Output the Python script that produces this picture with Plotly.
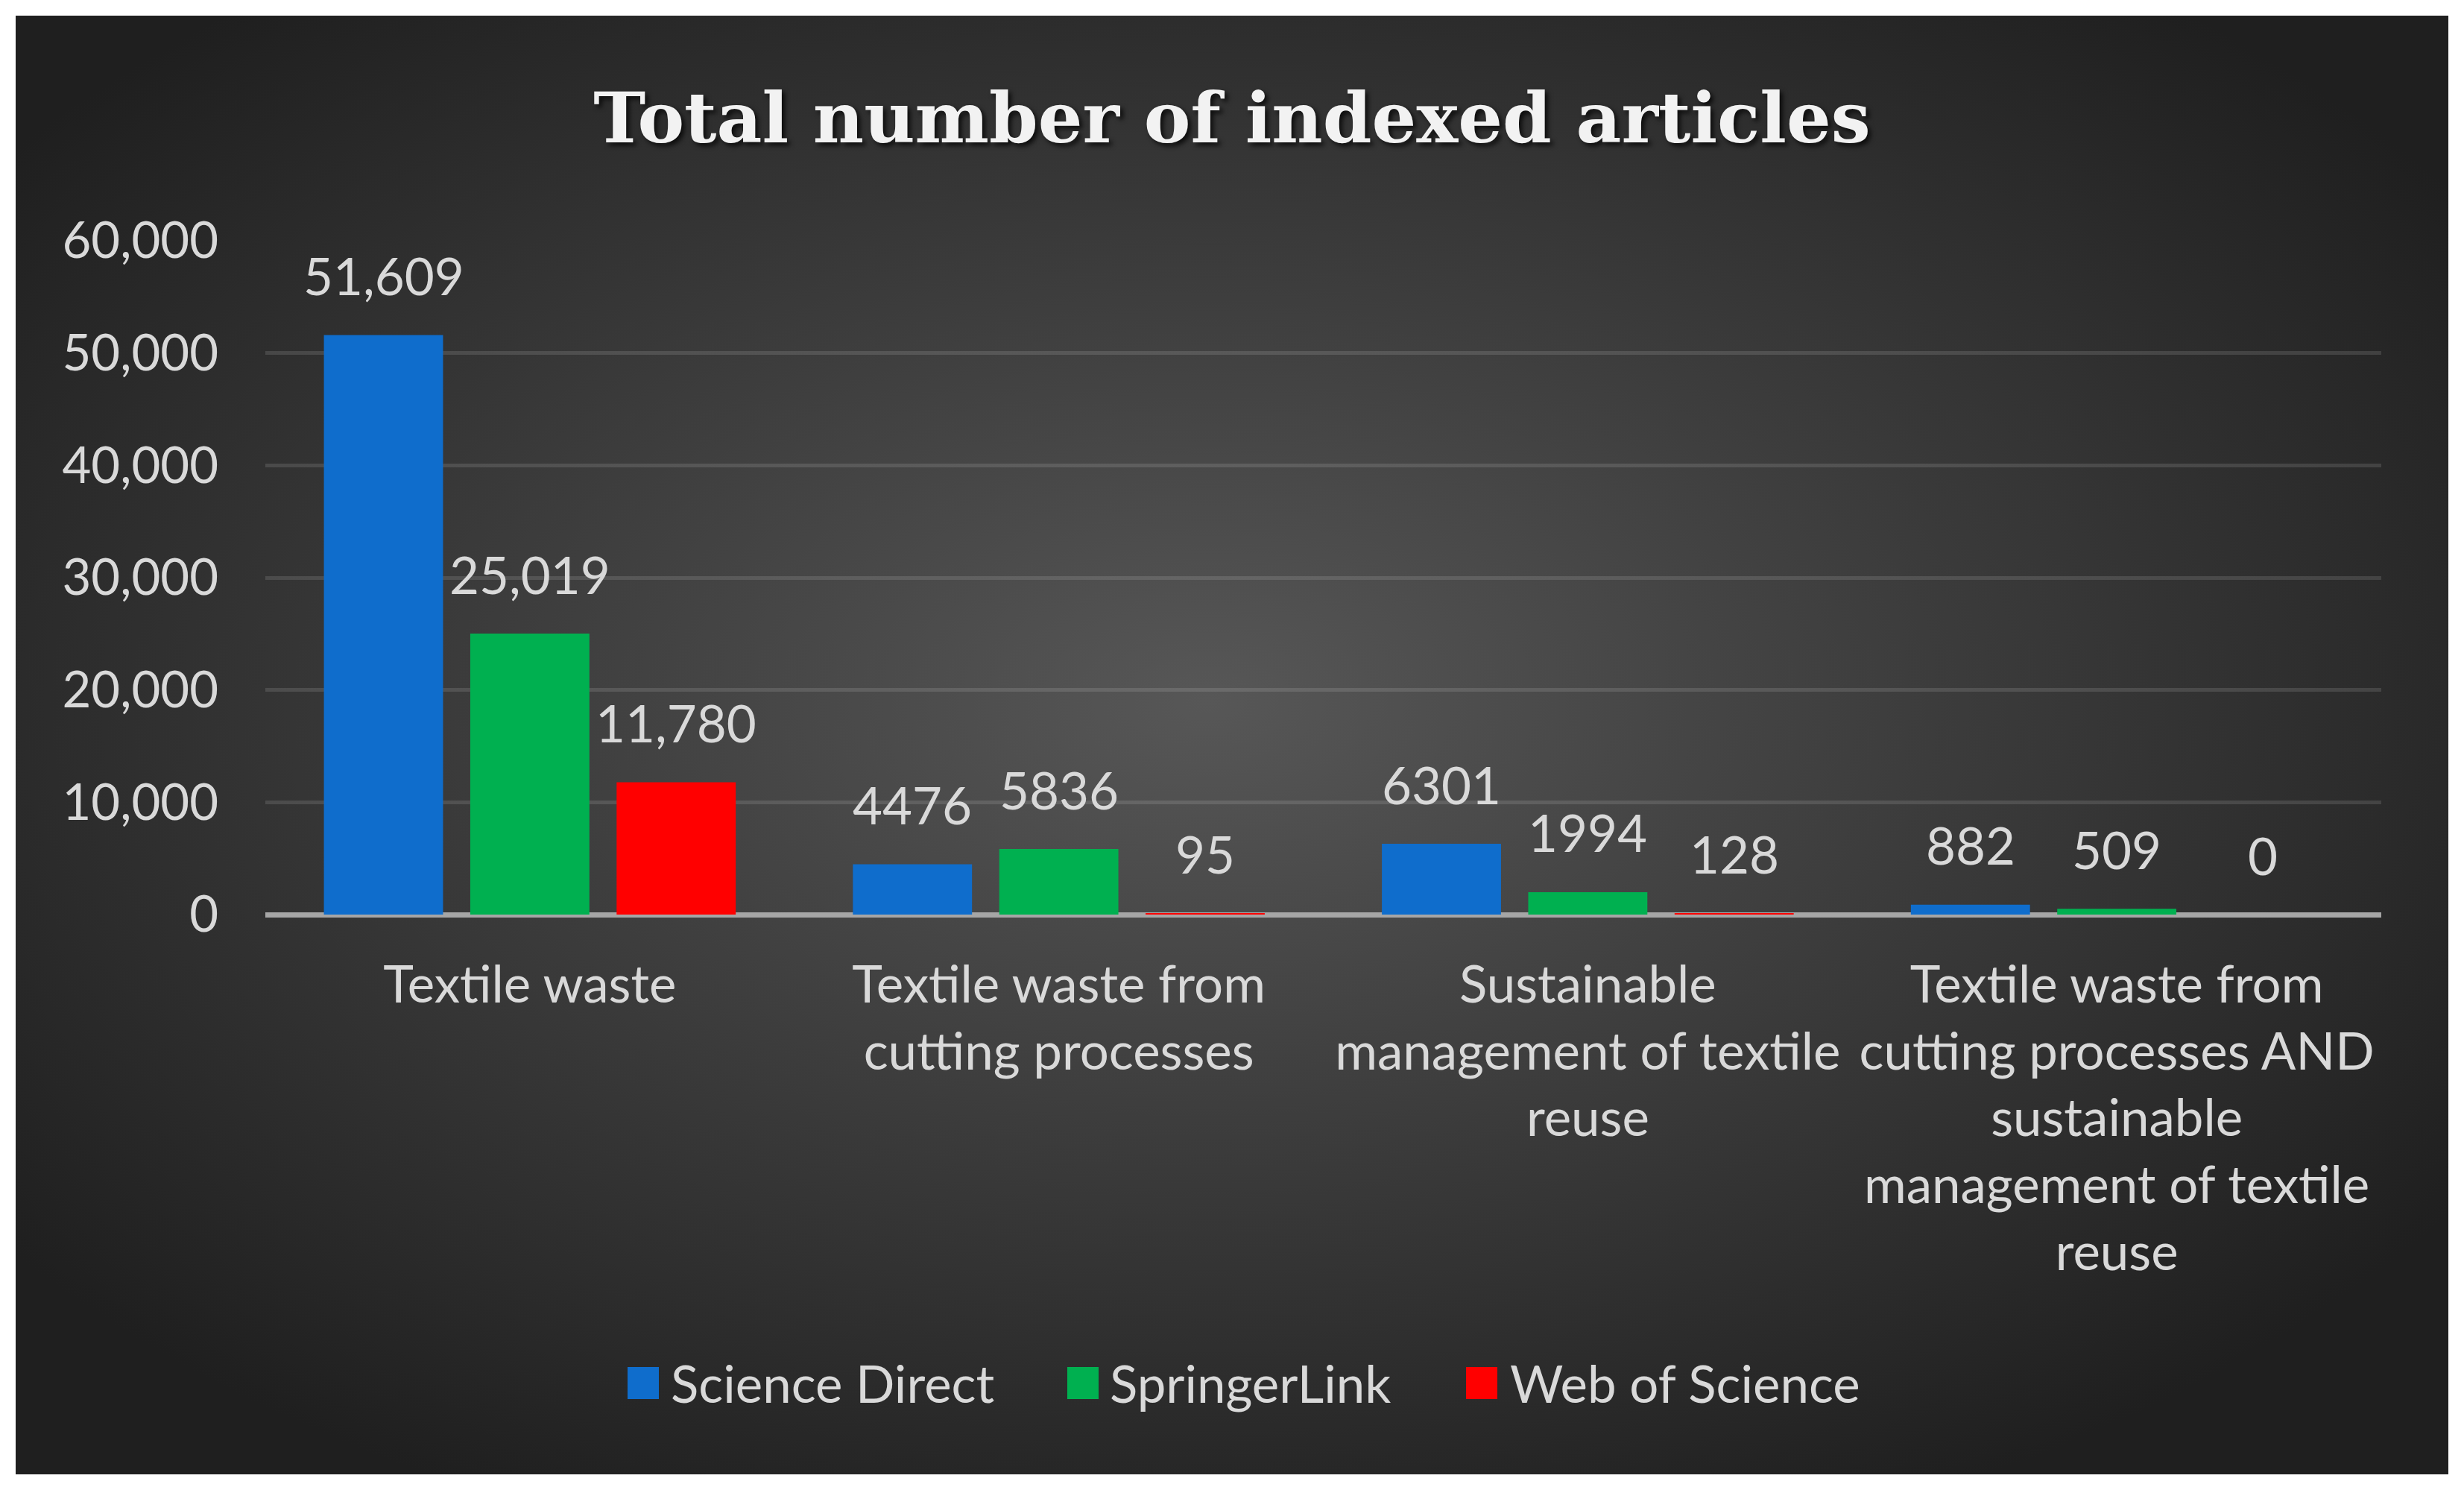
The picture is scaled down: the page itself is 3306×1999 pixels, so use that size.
import base64
import plotly.graph_objects as go

# data
categories = [
    "Textile waste",
    "Textile waste from cutting processes",
    "Sustainable management of textile reuse",
    "Textile waste from cutting processes AND sustainable management of textile reuse",
]
tick_labels = [
    "Textile waste",
    "Textile waste from<br>cutting processes",
    "Sustainable<br>management of textile<br>reuse",
    "Textile waste from<br>cutting processes AND<br>sustainable<br>management of textile<br>reuse",
]
science_direct = [51609, 4476, 6301, 882]
springer_link = [25019, 5836, 1994, 509]
web_of_science = [11780, 95, 128, 0]
series_names = ["Science Direct", "SpringerLink", "Web of Science"]
y_ticks = [0, 10000, 20000, 30000, 40000, 50000, 60000]

BLUE = "#0f6dcc"
GREEN = "#00b050"
RED = "#ff0000"
TEXT = "#d9d9d9"
FONT = "Lato"
FSIZE = 69

W, H = 3306, 1999
OFF = 8  # the page body adds an 8px margin, so pull everything back by that
L, R, T, B = 356 - OFF, 111 + OFF, 323 - OFF, 772 + OFF
PW, PH = W - L - R, H - T - B
BARGAP, GROUPGAP = 0.17, 0.186


def px_x(px):
    return (px - OFF - L) / PW


def px_y(py):
    return 1 - (py - OFF - T) / PH


fig = go.Figure()
series = [science_direct, springer_link, web_of_science]
colors = [BLUE, GREEN, RED]
for name, vals, col in zip(series_names, series, colors):
    fig.add_trace(go.Bar(
        x=categories,
        y=vals,
        name=name,
        marker=dict(color=col, line=dict(width=0)),
        showlegend=False,
    ))

# data labels sit well above the bar tops, as in Excel
slot = PW / len(categories) * (1 - BARGAP) / len(series)
annotations = []
for i, vals in enumerate(series):
    for cat, v in zip(categories, vals):
        label = f"{v:,}" if v >= 10000 else str(v)
        annotations.append(dict(
            x=cat, y=v, xref="x", yref="y", text=label, showarrow=False,
            xshift=(i - 1) * slot, yshift=80, yanchor="middle",
            font=dict(family=FONT, size=FSIZE, color=TEXT),
        ))

# hand-built legend so the colour squares can be large
legend_sq = [842, 1432, 1967]
legend_txt = [898, 1487, 2024]
shapes = []
for name, col, sx, tx in zip(series_names, colors, legend_sq, legend_txt):
    shapes.append(dict(
        type="rect", xref="paper", yref="paper",
        x0=px_x(sx), x1=px_x(sx + 42), y0=px_y(1834), y1=px_y(1877),
        fillcolor=col, line=dict(width=0),
    ))
    annotations.append(dict(
        x=px_x(tx), y=px_y(1855), xref="paper", yref="paper", text=name,
        showarrow=False, xanchor="left", yanchor="middle",
        font=dict(family=FONT, size=FSIZE, color=TEXT),
    ))

# dark radial-gradient panel behind everything
svg = (
    "<svg xmlns='http://www.w3.org/2000/svg' width='3264' height='1957' "
    "viewBox='0 0 3264 1957' preserveAspectRatio='none'>"
    "<defs><radialGradient id='g' cx='0.49' cy='0.47' r='0.62'>"
    "<stop offset='0' stop-color='#575757'/>"
    "<stop offset='1' stop-color='#1f1f1f'/>"
    "</radialGradient></defs>"
    "<rect width='100%' height='100%' fill='url(#g)'/></svg>"
)
bg_src = "data:image/svg+xml;base64," + base64.b64encode(svg.encode()).decode()

fig.update_layout(
    width=W,
    height=H,
    margin=dict(l=L, r=R, t=T, b=B),
    paper_bgcolor="white",
    plot_bgcolor="rgba(0,0,0,0)",
    barmode="group",
    bargap=BARGAP,
    bargroupgap=GROUPGAP,
    title=dict(
        text="Total number of indexed articles",
        x=(1653 - OFF) / W, xref="container", xanchor="center",
        y=1 - (158 - OFF) / H, yref="container", yanchor="middle",
        font=dict(family="DejaVu Serif", size=94, weight="bold", color="#f2f2f2",
                  shadow="4px 4px 6px rgba(0,0,0,0.75)"),
    ),
    xaxis=dict(
        type="category",
        tickvals=categories,
        ticktext=tick_labels,
        showgrid=False,
        ticks="",
        ticklabelstandoff=48,
        tickfont=dict(family=FONT, size=FSIZE, color=TEXT),
    ),
    yaxis=dict(
        range=[0, 60000],
        tickvals=y_ticks,
        tickformat=",",
        showgrid=True,
        gridcolor="rgba(255,255,255,0.12)",
        gridwidth=5,
        zeroline=True,
        zerolinecolor="#a6a6a6",
        zerolinewidth=7,
        ticks="",
        ticklabelstandoff=62,
        tickfont=dict(family=FONT, size=67, color=TEXT),
    ),
    images=[dict(
        source=bg_src, xref="paper", yref="paper",
        x=px_x(21), y=px_y(21), sizex=(3285 - 21) / PW, sizey=(1978 - 21) / PH,
        xanchor="left", yanchor="top", sizing="stretch", layer="below",
    )],
    shapes=shapes,
    annotations=annotations,
)

fig.write_html("out.html")
